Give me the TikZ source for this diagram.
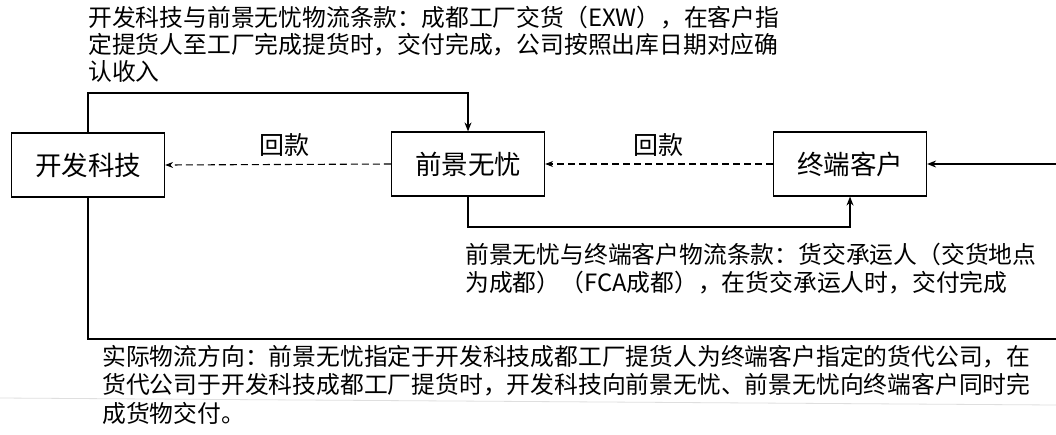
\documentclass[tikz,border=0pt]{standalone}
\usepackage{fontspec}
\newfontfamily\cjk{Noto Sans CJK SC}
\usetikzlibrary{arrows.meta}
\begin{document}
\begin{tikzpicture}[x=1pt,y=-1pt,
  box/.style={draw,line width=1.2pt,minimum width=153pt,minimum height=64pt,inner sep=0pt,font=\cjk\fontsize{26.5}{30}\selectfont},
  note/.style={align=left,inner sep=0pt,anchor=north west},
  flow/.style={line width=1.2pt,-{Stealth[length=9pt,width=7pt]}},
  pay/.style={line width=1.1pt,dash pattern=on 7pt off 4pt,-{Stealth[length=8pt,width=6pt]}},
  lbl/.style={inner sep=0pt,font=\cjk\fontsize{25}{28}\selectfont}]
\useasboundingbox (0,0) rectangle (1056,434);
\fill[white] (0,0) rectangle (1056,434);
\draw[gray!25,line width=0.8pt] (0,398) -- (1056,405);
\node[box] (kf) at (88,165) {开发科技};
\node[box] (qj) at (468,164) {前景无忧};
\node[box] (zd) at (850,164) {终端客户};
\draw[pay] (qj.west) -- (kf.east);
\draw[pay] (zd.west) -- (qj.east);
\node[lbl] (hk1) at (284,145) {回款};
\node[lbl] (hk2) at (658,145) {回款};
\coordinate (topline) at (300,93);
\coordinate (lowline) at (600,227);
\coordinate (botright) at (1070,339);
\draw[flow] (kf.north) |- (topline) -| (qj.north);
\draw[flow] (qj.south) |- (lowline) -| (zd.south);
\draw[flow] (kf.south) |- (botright) |- (zd.east);
\node[note,font=\cjk\fontsize{23.8}{27}\selectfont] (n1) at (88,6) {开发科技与前景无忧物流条款：成都工厂交货（EXW），在客户指\\定提货人至工厂完成提货时，交付完成，公司按照出库日期对应确\\认收入};
\node[note,font=\cjk\fontsize{23.8}{28}\selectfont] (n2) at (465,243) {前景无忧与终端客户物流条款：货交承运人（交货地点\\为成都）（FCA成都），在货交承运人时，交付完成};
\node[note,font=\cjk\fontsize{23.8}{28.5}\selectfont] (n3) at (102,345) {实际物流方向：前景无忧指定于开发科技成都工厂提货人为终端客户指定的货代公司，在\\货代公司于开发科技成都工厂提货时，开发科技向前景无忧、前景无忧向终端客户同时完\\成货物交付。};
\end{tikzpicture}
\end{document}
